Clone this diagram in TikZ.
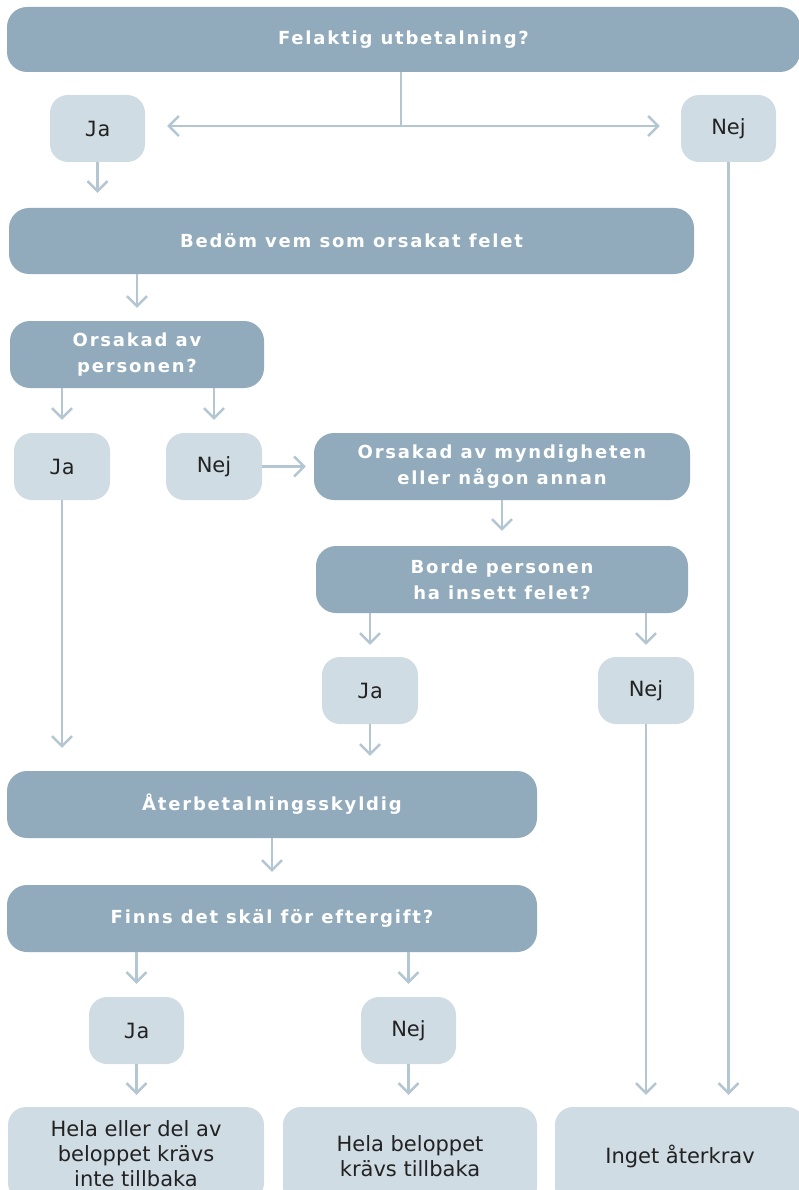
\documentclass[tikz,border=0pt]{standalone}
\usepackage{fontspec}
\setmainfont{DejaVu Sans}
\newfontfamily\boldfnt{DejaVu Sans}[LetterSpace=10]
\newfontfamily\monofnt{DejaVu Sans Mono}
\usetikzlibrary{arrows.meta}
\definecolor{dark}{HTML}{91ABBC}
\definecolor{light}{HTML}{D0DCE4}
\definecolor{lnc}{HTML}{B3C6D2}
\definecolor{txt}{HTML}{222222}
\begin{document}
\begin{tikzpicture}[x=1pt,y=-1pt,
  dbox/.style={fill=dark, rounded corners=20pt, text=white,
    font=\boldfnt\bfseries\fontsize{18}{26}\selectfont, align=center,
    inner sep=0pt, minimum height=67pt},
  lbox/.style={fill=light, rounded corners=18pt, text=txt,
    font=\fontsize{21}{25}\selectfont, align=center, inner sep=0pt,
    minimum width=95pt, minimum height=67pt},
  jabox/.style={lbox, font=\monofnt\fontsize{21}{25}\selectfont},
  ln/.style={draw=lnc, line width=2.5pt},
  arr/.style={ln, -{Straight Barb[length=10pt,width=20pt,line width=2.5pt]}},
]
\useasboundingbox (0,0) rectangle (799,1190);
\clip (0,0) rectangle (799,1190);

% nodes
\node[dbox, minimum width=793pt, minimum height=65pt] (q1) at (403.5,39.5) {Felaktig utbetalning?};
\node[jabox] (ja1) at (97.5,128.5) {Ja};
\node[lbox] (nej1) at (728.5,128.5) {Nej};
\node[dbox, minimum width=685pt, minimum height=66pt] (bedom) at (351.5,241) {Bedöm vem som orsakat felet};
\node[dbox, minimum width=254pt] (q2) at (137,354.5) {Orsakad av\\personen?};
\node[jabox, minimum width=96pt] (ja2) at (62,466.5) {Ja};
\node[lbox, minimum width=96pt] (nej2) at (214,466.5) {Nej};
\node[dbox, minimum width=376pt] (myn) at (502,466.5) {Orsakad av myndigheten\\eller någon annan};
\node[dbox, minimum width=372pt] (borde) at (502,579.5) {Borde personen\\ha insett felet?};
\node[jabox, minimum width=96pt] (ja3) at (370,690.5) {Ja};
\node[lbox, minimum width=96pt] (nej3) at (646,690.5) {Nej};
\node[dbox, minimum width=530pt] (ater) at (272,804.5) {Återbetalningsskyldig};
\node[dbox, minimum width=530pt] (finns) at (272,918.5) {Finns det skäl för eftergift?};
\node[jabox] (ja4) at (136.5,1030.5) {Ja};
\node[lbox] (nej4) at (408.5,1030.5) {Nej};
\node[lbox, minimum width=256pt, minimum height=94pt] (b1) at (136,1154) {Hela eller del av\\beloppet krävs\\inte tillbaka};
\node[lbox, minimum width=254pt, minimum height=98pt] (b2) at (410,1156) {Hela beloppet\\krävs tillbaka};
\node[lbox, minimum width=250pt, minimum height=98pt] (b3) at (680,1156) {Inget återkrav};

% connectors
\coordinate (split) at (401,126);
\draw[ln] (q1.south -| split) -- (split);
\draw[arr, shorten >=22pt] (split) -- (split -| ja1.east);
\draw[arr, shorten >=21pt] (split) -- (split -| nej1.west);
\draw[arr, shorten >=15pt] (ja1.south) -- (ja1.south |- bedom.north);
\draw[arr, shorten >=13pt] (q2.north |- bedom.south) -- (q2.north);
\draw[arr, shorten >=13pt] (ja2.north |- q2.south) -- (ja2.north);
\draw[arr, shorten >=13pt] (nej2.north |- q2.south) -- (nej2.north);
\draw[arr, shorten >=8pt] (nej2.east) -- (nej2.east -| myn.west);
\draw[arr, shorten >=15pt] (myn.south) -- (myn.south |- borde.north);
\draw[arr, shorten >=12pt] (ja3.north |- borde.south) -- (ja3.north);
\draw[arr, shorten >=12pt] (nej3.north |- borde.south) -- (nej3.north);
\draw[arr, shorten >=23pt] (ja2.south) -- (ja2.south |- ater.north);
\draw[arr, shorten >=15pt] (ja3.south) -- (ja3.south |- ater.north);
\draw[arr, shorten >=13pt] (ater.south) -- (finns.north);
\draw[arr, shorten >=13pt] (ja4.north |- finns.south) -- (ja4.north);
\draw[arr, shorten >=13pt] (nej4.north |- finns.south) -- (nej4.north);
\draw[arr, shorten >=12pt] (ja4.south) -- (ja4.south |- b1.north);
\draw[arr, shorten >=12pt] (nej4.south) -- (nej4.south |- b2.north);
\draw[arr, shorten >=12pt] (nej3.south) -- (nej3.south |- b3.north);
\draw[arr, shorten >=12pt] (nej1.south) -- (nej1.south |- b3.north);
\end{tikzpicture}
\end{document}
